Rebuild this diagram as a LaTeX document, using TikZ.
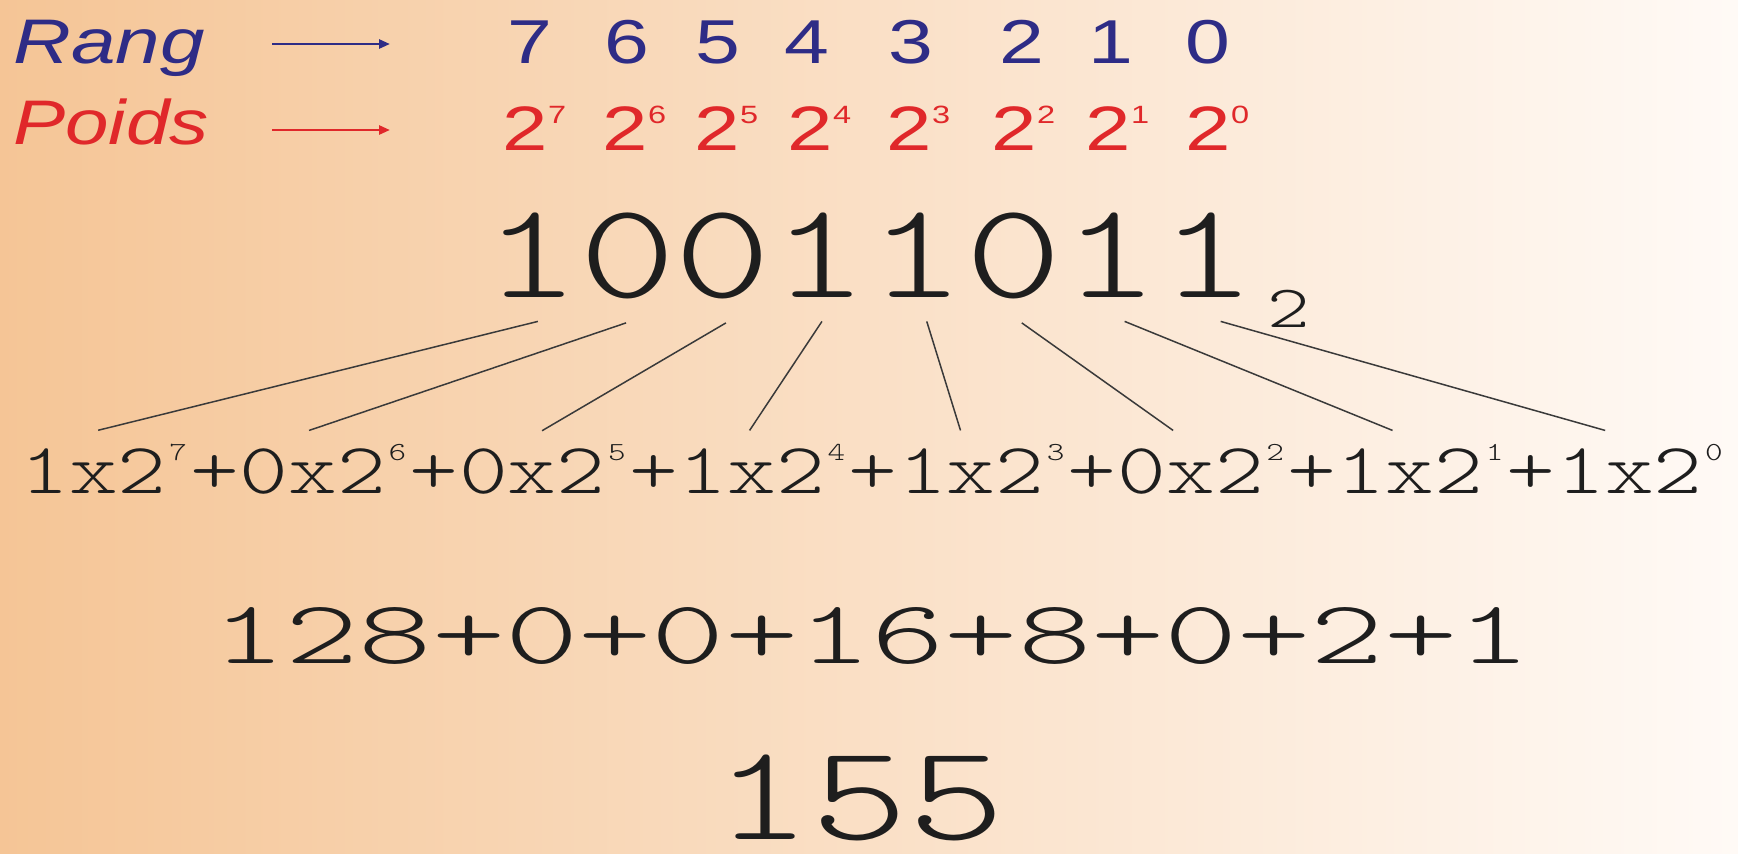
\documentclass[tikz,border=0pt]{standalone}
\usepackage{fontspec}
\usepackage{graphicx}
\usetikzlibrary{arrows.meta,calc}
\newfontfamily\arialfam{Liberation Sans}
\newfontfamily\monolt{lmmonolt10-regular}[Extension=.otf]
\definecolor{bgL}{HTML}{F5C596}
\definecolor{bgR}{HTML}{FFFAF6}
\definecolor{rangblue}{HTML}{2E2C86}
\definecolor{poidsred}{HTML}{E0282A}
\definecolor{ink}{HTML}{1E1E1E}
\definecolor{linegray}{HTML}{3A3A3A}
\newcommand{\hsc}[2]{\scalebox{#1}[1]{#2}}
\newcommand{\fs}[1]{\fontsize{#1}{#1}\selectfont}
\newcommand{\trm}[2]{\hsc{1.29}{#1x2\kern1pt\raisebox{16.5pt}{\fs{13}#2}\kern1pt}}
\begin{document}
\begin{tikzpicture}[x=0.5pt,y=-0.5pt,
  lbl/.style={inner sep=0pt, anchor=base west, font=\arialfam\itshape\fs{31.5}},
  rk/.style={inner sep=0pt, anchor=base, text=rangblue, font=\arialfam\fs{31}},
  pw/.style={inner sep=0pt, anchor=base west, text=poidsred, font=\arialfam\fs{31.4}},
  bit/.style={inner xsep=0pt, inner ysep=12pt, anchor=base, text=ink, font=\monolt\fs{68}},
  term/.style={inner xsep=0pt, inner ysep=6.5pt, anchor=base west, text=ink, font=\monolt\fs{36}},
  plus/.style={inner sep=0pt, anchor=base west, text=ink, font=\monolt\fs{36}},
  conn/.style={draw=linegray, line width=0.75pt},
  tip/.style={-{Triangle[length=5.5pt,width=4.5pt]}, line width=1.3pt}
]
\useasboundingbox (0,0) rectangle (1738,853);
\shade[left color=bgL, right color=bgR] (0,0) rectangle (1738,853);

% labels and arrows
\node[lbl, text=rangblue] (rang) at (13,63) {\hsc{1.27}{Rang}};
\node[lbl, text=poidsred] (poids) at (13,144) {\hsc{1.24}{Poids}};
\coordinate (ra) at (272,44);
\coordinate (rb) at (390,44);
\coordinate (pa) at (272,130);
\coordinate (pb) at (390,130);
\draw[tip, rangblue] (ra) -- (rb);
\draw[tip, poidsred] (pa) -- (pb);

% ranks
\foreach \d/\x in {7/530,6/627,5/718,4/807,3/911,2/1022,1/1111,0/1208}
  \node[rk] (r\d) at (\x,63) {\hsc{1.3}{\d}};

% weights
\foreach \d/\x in {7/525,6/625,5/717,4/810,3/909,2/1014,1/1108,0/1208}
  \node[pw] (p\d) at (\x-22.7,150) {\hsc{1.3}{2\raisebox{13.5pt}{\fs{12.5}\d}}};

% binary number
\foreach \i/\d/\x in {7/1/532,6/0/628,5/0/723,4/1/820,3/1/917,2/0/1014,1/1/1111,0/1/1208}
  \node[bit] (b\i) at (\x,297) {\hsc{1.354}{\d}};
\node[inner sep=0pt, anchor=base, text=ink, font=\monolt\fs{30}] (sub) at (1289,327) {\hsc{1.35}{2}};

% expansion
\node[term] (t7) at (20,493) {\trm{1}{7}};
\node[plus] (q7) at (t7.base east) {\hsc{1.29}{+}};
\node[term] (t6) at (q7.base east) {\trm{0}{6}};
\node[plus] (q6) at (t6.base east) {\hsc{1.29}{+}};
\node[term] (t5) at (q6.base east) {\trm{0}{5}};
\node[plus] (q5) at (t5.base east) {\hsc{1.29}{+}};
\node[term] (t4) at (q5.base east) {\trm{1}{4}};
\node[plus] (q4) at (t4.base east) {\hsc{1.29}{+}};
\node[term] (t3) at (q4.base east) {\trm{1}{3}};
\node[plus] (q3) at (t3.base east) {\hsc{1.29}{+}};
\node[term] (t2) at (q3.base east) {\trm{0}{2}};
\node[plus] (q2) at (t2.base east) {\hsc{1.29}{+}};
\node[term] (t1) at (q2.base east) {\trm{1}{1}};
\node[plus] (q1) at (t1.base east) {\hsc{1.29}{+}};
\node[term] (t0) at (q1.base east) {\trm{1}{0}};

\foreach \i/\fa/\fb in {7/0.56/0.46,6/0.48/0.41,5/0.53/0.49,4/0.52/0.42,3/0.60/0.37,2/0.58/0.33,1/0.64/0.33,0/0.63/0.29}
  \draw[conn] ($(b\i.south west)!\fa!(b\i.south east)$) -- ($(t\i.north west)!\fb!(t\i.north east)$);

% sum and result
\node[inner sep=0pt, anchor=base west, text=ink, font=\monolt\fs{45}] (sum) at (212,663) {\hsc{1.55}{128+0+0+16+8+0+2+1}};
\node[inner sep=0pt, anchor=base, text=ink, font=\monolt\fs{68}] (res) at (860,839) {\hsc{1.354}{155}};
\end{tikzpicture}
\end{document}
